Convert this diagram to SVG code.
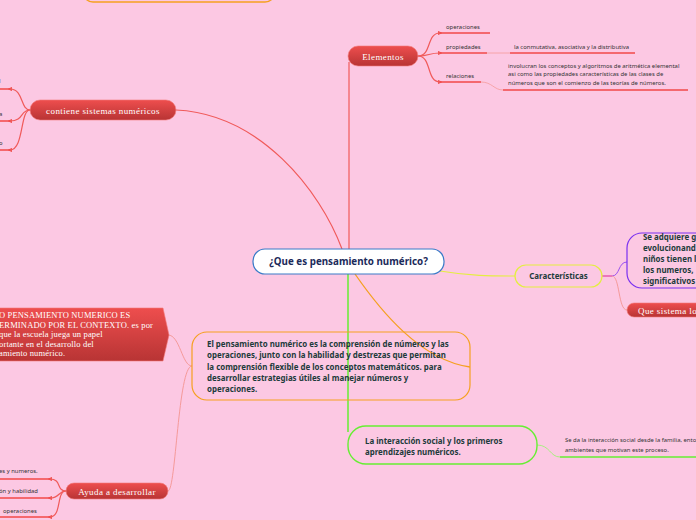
<svg xmlns="http://www.w3.org/2000/svg" width="696" height="520" viewBox="0 0 696 520">
<defs>
<linearGradient id="red" x1="0" y1="0" x2="0" y2="1">
<stop offset="0" stop-color="#ee4e4e"/>
<stop offset="1" stop-color="#b83434"/>
</linearGradient>
<marker id="dot" viewBox="0 0 6 6" refX="3" refY="3" markerWidth="4" markerHeight="4" orient="auto">
<path d="M0,0 L6,3 L0,6 Z" fill="#f05858"/>
</marker>
<style>
.red{fill:url(#red);stroke:#f27a7a;stroke-width:0.6}
.rt{font-family:"Liberation Serif","DejaVu Serif",serif;font-size:9px;fill:#fff;letter-spacing:0.4px}
.bt{font-family:"Noto Sans","Open Sans",sans-serif;font-weight:bold;font-size:7.9px;fill:#1d3b3b}
.st{font-family:"Noto Sans","Open Sans",sans-serif;font-size:5.9px;fill:#333}
.rl{fill:none;stroke:#f05a5a;stroke-width:1.2}
.ul{fill:none;stroke:#f24848;stroke-width:1.4}
</style>
</defs>
<rect width="696" height="520" fill="#fcc8e3"/>

<g id="connectors">
<path class="rl" d="M349,62 L349,249"/>
<path class="rl" d="M176,110 C260,114 320,190 342,249"/>
<path d="M355,274 C380,310 420,360 470,367" fill="none" stroke="#f5a020" stroke-width="1.3"/>
<path d="M348,274 L348,432" fill="none" stroke="#66ee33" stroke-width="1.5"/>
<path d="M440,271 C470,276 490,276 515,276" fill="none" stroke="#e4ee40" stroke-width="1.2"/>
<path d="M192,366 C182,366 180,335 168,335" fill="none" stroke="#f59a9a" stroke-width="1"/>
<path d="M192,366 C178,366 176,491 168,491" fill="none" stroke="#f59a9a" stroke-width="1"/>
<path class="rl" d="M418,56 C432,56 426,33 440,33" marker-end="url(#dot)"/>
<path class="rl" d="M418,56 C430,56 428,53 440,53" marker-end="url(#dot)"/>
<path class="rl" d="M418,56 C432,56 426,82 440,82" marker-end="url(#dot)"/>
<path class="ul" d="M440,33 L490,33"/>
<path class="ul" d="M440,53 L487,53"/>
<path d="M487,53 L510,53" stroke="#f59a9a" stroke-width="0.8" fill="none"/>
<path class="ul" d="M510,53 L635,53"/>
<path class="ul" d="M440,82 L481,82"/>
<path d="M481,82 C492,82 494,90 503,90" stroke="#f59a9a" stroke-width="0.8" fill="none"/>
<path class="ul" d="M503,90 L688,90"/>
<path class="rl" d="M30,110 C20,110 24,89 10,89" marker-end="url(#dot)"/>
<path class="rl" d="M30,110 C20,110 24,121 10,121" marker-end="url(#dot)"/>
<path class="rl" d="M30,110 C20,110 24,150 10,150" marker-end="url(#dot)"/>
<path class="ul" d="M10,89 L0,89 M10,121 L0,121 M10,150 L0,150"/>
<path class="rl" d="M66,491 C56,491 62,479 50,479" marker-end="url(#dot)"/>
<path class="rl" d="M66,491 C58,491 60,498 50,498" marker-end="url(#dot)"/>
<path class="rl" d="M66,491 C56,491 62,517 50,517" marker-end="url(#dot)"/>
<path class="ul" d="M50,479 L0,479 M50,498 L0,498 M50,517 L0,517"/>
<path d="M537,445 C550,445 550,457 560,457" fill="none" stroke="#a8f080" stroke-width="1"/>
<path d="M560,457 L696,457" fill="none" stroke="#66ee33" stroke-width="1.5"/>
<path d="M602,276 L612,276" stroke="#e040a0" stroke-width="1.2" fill="none"/>
<path d="M612,276 C620,276 618,262 627,262" stroke="#9a50f0" stroke-width="1" fill="none"/>
<path d="M612,276 C620,276 618,310 627,310" stroke="#f59a9a" stroke-width="1" fill="none"/>
</g>

<g id="top-box">
<rect x="83" y="-40" width="192" height="42" rx="10" fill="none" stroke="#f5a020" stroke-width="1.4"/>
</g>

<g id="center">
<rect x="253" y="249" width="191" height="25" rx="12" fill="#fff" stroke="#3a7bc8" stroke-width="1.2"/>
<text x="348.5" y="265" text-anchor="middle" font-family="'Noto Sans','Open Sans',sans-serif" font-weight="bold" font-size="9.8" fill="#1b2a5a">¿Que es pensamiento numérico?</text>
</g>

<g id="elementos">
<rect class="red" x="348" y="46" width="70" height="20" rx="10"/>
<text class="rt" x="383" y="59.5" text-anchor="middle">Elementos</text>
<text class="st" x="446" y="29">operaciones</text>
<text class="st" x="446" y="49">propiedades</text>
<text class="st" x="514" y="49">la conmutativa, asociativa y la distributiva</text>
<text class="st" x="446" y="78">relaciones</text>
<text class="st" x="508" y="68">involucran  los conceptos y algoritmos de aritmética elemental</text>
<text class="st" x="508" y="76">asi como las propiedades características de las clases de</text>
<text class="st" x="508" y="85">números que son el comienzo de las teorías de números.</text>
</g>

<g id="contiene">
<rect class="red" x="30" y="100" width="146" height="20" rx="10"/>
<text class="rt" x="103" y="113.5" text-anchor="middle">contiene sistemas numéricos</text>
<text class="st" x="-1" y="83">l</text>
<text class="st" x="-1" y="116">a</text>
<text class="st" x="-1" y="145">o</text>
</g>

<g id="contexto">
<path d="M-5,308 L163,308 L169,335 L163,361 L-5,361 Z" fill="url(#red)" stroke="#f27a7a" stroke-width="0.6"/>
<text class="rt" style="letter-spacing:0.15px;font-size:8.5px" x="-1" y="318">O PENSAMIENTO NUMERICO ES</text>
<text class="rt" style="letter-spacing:0.15px;font-size:8.5px" x="-1" y="328">ERMINADO POR EL CONTEXTO. es por</text>
<text class="rt" style="letter-spacing:0.15px;font-size:8.5px" x="-1" y="337">que la escuela juega un papel</text>
<text class="rt" style="letter-spacing:0.15px;font-size:8.5px" x="-1" y="347">ortante en el desarrollo del</text>
<text class="rt" style="letter-spacing:0.15px;font-size:8.5px" x="-1" y="356">amiento numérico.</text>
</g>

<g id="definicion">
<rect x="192" y="332" width="278" height="68" rx="15" fill="none" stroke="#f5a020" stroke-width="1.2"/>
<text class="bt" x="207" y="347">El pensamiento numérico es la comprensión de números y las</text>
<text class="bt" x="207" y="358">operaciones, junto con la habilidad y destrezas que permitan</text>
<text class="bt" x="207" y="370">la comprensión flexible de los conceptos matemáticos. para</text>
<text class="bt" x="207" y="381">desarrollar estrategias útiles al manejar números y</text>
<text class="bt" x="207" y="392">operaciones.</text>
</g>

<g id="ayuda">
<rect class="red" x="66" y="483" width="102" height="16" rx="8"/>
<text class="rt" x="117" y="494.5" text-anchor="middle">Ayuda a desarrollar</text>
<text class="st" x="-1" y="473">es y numeros.</text>
<text class="st" x="-1" y="493">ón y habilidad</text>
<text class="st" x="3" y="513">operaciones</text>
</g>

<g id="interaccion">
<rect x="348" y="426" width="189" height="38" rx="18" fill="none" stroke="#66ee33" stroke-width="1.4"/>
<text class="bt" x="365" y="444">La interacción social y los primeros</text>
<text class="bt" x="365" y="455">aprendizajes numéricos.</text>
<text class="st" x="565" y="442">Se da la interacción social desde la familia, ento</text>
<text class="st" x="565" y="452">ambientes que motivan este proceso.</text>
</g>

<g id="caracteristicas">
<rect x="515" y="265" width="87" height="22" rx="11" fill="none" stroke="#e4ee40" stroke-width="1.2"/>
<text class="bt" x="558.5" y="279" text-anchor="middle">Características</text>
</g>

<g id="adquiere">
<rect x="627" y="233" width="100" height="55" rx="15" fill="none" stroke="#7a30f0" stroke-width="1.2"/>
<text class="bt" x="643" y="240">Se adquiere g</text>
<text class="bt" x="643" y="251">evolucionand</text>
<text class="bt" x="643" y="262">niños tienen l</text>
<text class="bt" x="643" y="273">los numeros,</text>
<text class="bt" x="643" y="284">significativos</text>
</g>

<g id="que-sistema">
<rect class="red" x="627" y="303" width="90" height="14" rx="7"/>
<text class="rt" x="638" y="313.5">Que sistema lo</text>
</g>
</svg>
